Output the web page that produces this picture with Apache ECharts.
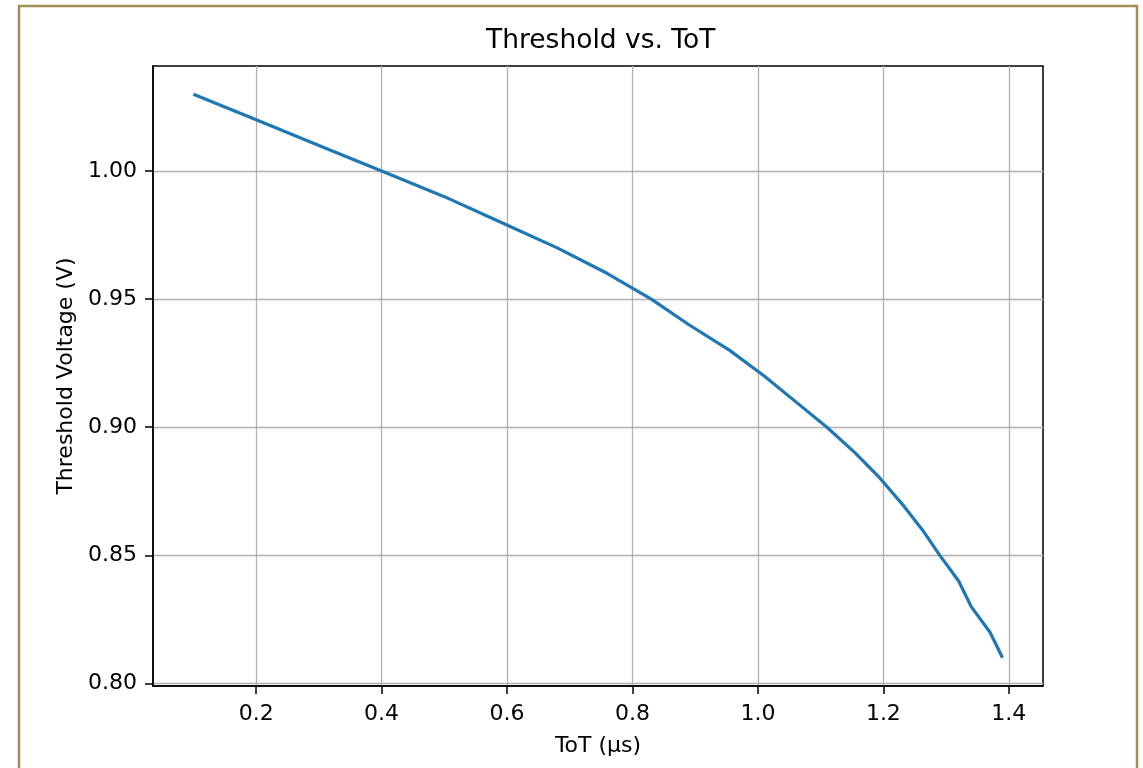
<!DOCTYPE html>
<html>
<head>
<meta charset="utf-8">
<script src="https://cdn.jsdelivr.net/npm/echarts@6/dist/echarts.min.js"></script>
<style>
html,body{margin:0;padding:0;background:#fff;}
#chart{width:1143px;height:768px;}
</style>
</head>
<body>
<div id="chart"></div>
<script>
// ToT (µs) values
const tot = [0.10, 0.20, 0.30, 0.40, 0.50, 0.59, 0.68, 0.76, 0.83, 0.89, 0.955, 1.01, 1.06, 1.11, 1.155, 1.195, 1.23, 1.262, 1.29, 1.32, 1.34, 1.37, 1.39];
// Threshold voltage (V)
const threshold = [1.03, 1.02, 1.01, 1.00, 0.99, 0.98, 0.97, 0.96, 0.95, 0.94, 0.93, 0.92, 0.91, 0.90, 0.89, 0.88, 0.87, 0.86, 0.85, 0.84, 0.83, 0.82, 0.81];
const xTicks = [0.2, 0.4, 0.6, 0.8, 1.0, 1.2, 1.4];
const yTicks = [0.80, 0.85, 0.90, 0.95, 1.00];

const chart = echarts.init(document.getElementById('chart'), null, {renderer: 'canvas'});
const font = 'DejaVu Sans';
const data = tot.map((x, i) => [x, threshold[i]]);

chart.setOption({
  animation: false,
  backgroundColor: '#ffffff',
  textStyle: {fontFamily: font},
  title: {
    text: 'Threshold vs. ToT',
    left: 481,
    top: 23,
    textStyle: {fontFamily: font, fontSize: 26.5, fontWeight: 'normal', color: '#000'}
  },
  graphic: [{
    type: 'rect',
    shape: {x: 19, y: 6, width: 1118, height: 800},
    style: {fill: null, stroke: '#a28f55', lineWidth: 2.5},
    silent: true,
    z: 100
  }],
  grid: {
    left: 153, right: 100, top: 66, bottom: 82,
    show: true, borderColor: '#000', borderWidth: 1.5, backgroundColor: 'transparent',
    outerBoundsMode: 'none'
  },
  xAxis: {
    type: 'value',
    min: 0.0355, max: 1.4545,
    name: 'ToT (μs)',
    nameLocation: 'middle',
    nameGap: 49,
    nameTextStyle: {fontFamily: font, fontSize: 22, color: '#000'},
    axisLine: {show: true, onZero: false, lineStyle: {color: '#000', width: 1.5}},
    axisTick: {show: true, length: 8, lineStyle: {color: '#000', width: 1.5}, customValues: xTicks},
    axisLabel: {margin: 17, fontSize: 22, color: '#000', fontFamily: font, customValues: xTicks,
      formatter: v => Number(v).toFixed(1)},
    splitLine: {show: true, lineStyle: {color: '#b0b0b0', width: 1.3}}
  },
  yAxis: {
    type: 'value',
    min: 0.799, max: 1.041,
    name: 'Threshold Voltage (V)',
    nameLocation: 'middle',
    nameGap: 76,
    nameTextStyle: {fontFamily: font, fontSize: 22, color: '#000'},
    axisLine: {show: true, onZero: false, lineStyle: {color: '#000', width: 1.5}},
    axisTick: {show: true, length: 8, lineStyle: {color: '#000', width: 1.5}, customValues: yTicks},
    axisLabel: {margin: 16, fontSize: 22, color: '#000', fontFamily: font, customValues: yTicks,
      formatter: v => Number(v).toFixed(2)},
    splitLine: {show: true, lineStyle: {color: '#b0b0b0', width: 1.3}}
  },
  series: [{
    type: 'line',
    data: data,
    showSymbol: false,
    symbol: 'none',
    lineStyle: {color: '#1f77b4', width: 3.2},
    itemStyle: {color: '#1f77b4'},
    z: 5
  }]
});
</script>
</body>
</html>
